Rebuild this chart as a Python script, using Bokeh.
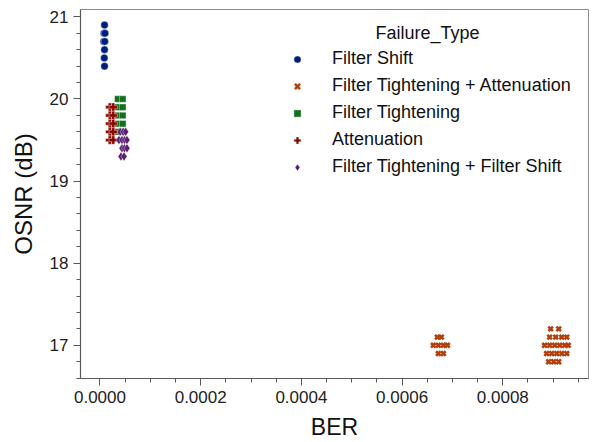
from bokeh.plotting import figure
from bokeh.models import FixedTicker, PrintfTickFormatter, Label
from bokeh.embed import file_html
from bokeh.resources import INLINE

# ---- data ----
fs_ber = [0.0000090, 0.0000080, 0.0000100, 0.0000075, 0.0000095, 0.0000090, 0.0000085, 0.0000090]
fs_osnr = [20.9, 20.8, 20.8, 20.7, 20.7, 20.6, 20.5, 20.4]

fta_ber = [0.000670, 0.000678,
           0.000662, 0.000672, 0.000682, 0.000690,
           0.000672, 0.000682,
           0.000895, 0.000911,
           0.000893, 0.000905, 0.000917, 0.000927,
           0.000883, 0.000893, 0.000903, 0.000913, 0.000923, 0.000930,
           0.000887, 0.000897, 0.000907, 0.000917, 0.000927,
           0.000891, 0.000901, 0.000911]
fta_osnr = [17.1, 17.1,
            17.0, 17.0, 17.0, 17.0,
            16.9, 16.9,
            17.2, 17.2,
            17.1, 17.1, 17.1, 17.1,
            17.0, 17.0, 17.0, 17.0, 17.0, 17.0,
            16.9, 16.9, 16.9, 16.9, 16.9,
            16.8, 16.8, 16.8]

ft_ber = [0.0000354, 0.0000453] * 5
ft_osnr = [20.0, 20.0, 19.9, 19.9, 19.8, 19.8, 19.7, 19.7, 19.6, 19.6]

att_ber = [0.0000195, 0.0000262] * 5
att_osnr = [19.9, 19.9, 19.8, 19.8, 19.7, 19.7, 19.6, 19.6, 19.5, 19.5]

ftfs_ber = [0.0000400, 0.0000460, 0.0000510,
            0.0000377, 0.0000437, 0.0000490, 0.0000536,
            0.0000437, 0.0000487, 0.0000536,
            0.0000417, 0.0000477]
ftfs_osnr = [19.6, 19.6, 19.6,
             19.5, 19.5, 19.5, 19.5,
             19.4, 19.4, 19.4,
             19.3, 19.3]

x_ticks = [0.0, 0.0002, 0.0004, 0.0006, 0.0008]
x_minor = [i * 0.00005 for i in range(0, 20)]
y_ticks = [17, 18, 19, 20, 21]
y_minor = [16.6 + i * 0.2 for i in range(0, 23)]

legend_title = "Failure_Type"
labels = ["Filter Shift", "Filter Tightening + Attenuation", "Filter Tightening",
          "Attenuation", "Filter Tightening + Filter Shift"]
colors = ["#001c7f", "#b1400d", "#12711c", "#8c0800", "#591e71"]

FONT = "Liberation Sans"

p = figure(width=599, height=442, output_backend="svg", toolbar_location=None,
           x_range=(-0.0000387, 0.0009702), y_range=(16.596, 21.09),
           min_border_left=80, min_border_right=11, min_border_top=9, min_border_bottom=62)

p.xgrid.visible = False
p.ygrid.visible = False
p.outline_line_color = "#8c8c8c"
p.outline_line_width = 1
p.background_fill_color = "white"
p.border_fill_color = "white"

p.scatter(fs_ber, fs_osnr, marker="circle", size=7.5, fill_color=colors[0],
          line_color="white", line_width=0.4, legend_label=labels[0])
p.scatter(fta_ber, fta_osnr, marker="x", size=6.5, line_color=colors[1],
          line_width=2.6, legend_label=labels[1])
p.scatter(ft_ber, ft_osnr, marker="square", size=6.5, fill_color=colors[2],
          line_color="white", line_width=0.4, legend_label=labels[2])
p.scatter(att_ber, att_osnr, marker="plus", size=8.5, fill_color=colors[3],
          line_color="white", line_width=0.4, legend_label=labels[3])
p.scatter(ftfs_ber, ftfs_osnr, marker="diamond", size=9, fill_color=colors[4],
          line_color="white", line_width=0.4, legend_label=labels[4])

for ax in (p.xaxis[0], p.yaxis[0]):
    ax.axis_line_color = "#5a5a5a"
    ax.axis_line_width = 1.2
    ax.major_tick_line_color = "#5a5a5a"
    ax.minor_tick_line_color = "#5a5a5a"
    ax.major_tick_out = 7
    ax.major_tick_in = 0
    ax.minor_tick_out = 4
    ax.minor_tick_in = 0
    ax.major_label_text_font = FONT
    ax.major_label_text_font_size = "17px"
    ax.major_label_text_color = "#222222"
    ax.axis_label_text_font = FONT
    ax.axis_label_text_font_style = "normal"
    ax.axis_label_text_color = "#111111"

p.xaxis.ticker = FixedTicker(ticks=x_ticks, minor_ticks=x_minor)
p.xaxis.formatter = PrintfTickFormatter(format="%.4f")
p.xaxis.axis_label = "BER"
p.xaxis.axis_label_text_font_size = "23px"
p.xaxis.major_label_standoff = 5
p.xaxis.axis_label_standoff = 8

p.yaxis.ticker = FixedTicker(ticks=y_ticks, minor_ticks=y_minor)
p.yaxis.axis_label = "OSNR (dB)"
p.yaxis.axis_label_text_font_size = "24px"
p.yaxis.major_label_standoff = 5
p.yaxis.axis_label_standoff = 10

leg = p.legend[0]
leg.location = (208, 201)
leg.border_line_color = None
leg.background_fill_alpha = 0
leg.padding = 0
leg.margin = 0
leg.spacing = 6
leg.glyph_width = 18
leg.glyph_height = 18
leg.label_height = 20
leg.label_standoff = 26
leg.label_text_font = FONT
leg.label_text_font_size = "18px"
leg.label_text_color = "#111111"

p.add_layout(Label(x=0.0006505, y=20.80, text=legend_title, text_align="center",
                   text_baseline="middle", text_font=FONT, text_font_size="18px",
                   text_color="#111111"))

open("out.html", "w").write(file_html(p, INLINE))
